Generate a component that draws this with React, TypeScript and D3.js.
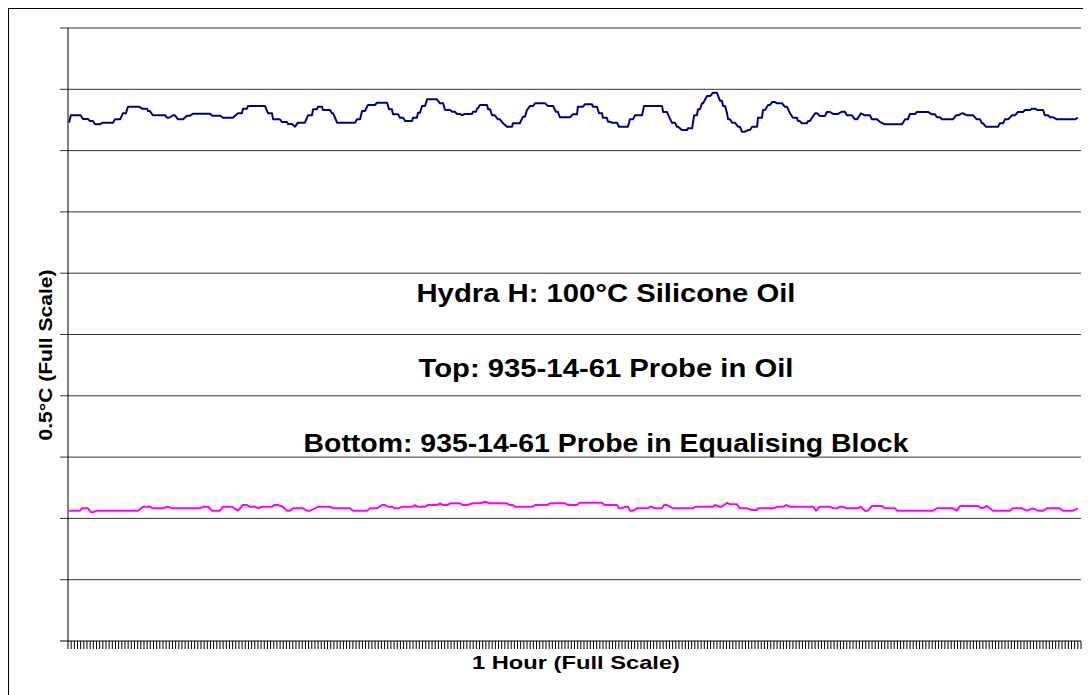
import React from 'react';
import * as d3 from 'd3';

// time in seconds (1 hour full scale), temperature in mK (0.5 °C full scale)
const topProbe: [number, number][] = [
  [4,422.8],[10,428.8],[45,428.8],[53,425.8],[71,425.8],[78,424.1],[89,424.1],[96,421.5],[114,421.5],[124,422.8],[160,422.8],[167,425.5],[185,425.5],[195,430.4],[206,430.4],[213,435.8],[252,435.8],[263,434.2],[281,434.2],[284,432.3],[291,432.3],[302,428.8],[345,428.8],[352,426.8],[359,426.8],[373,428.8],[380,428.8],[391,425.5],[409,425.5],[423,428.5],[434,428.5],[444,430.1],[505,430.1],[512,428.5],[540,428.5],[551,426.8],[586,426.8],[604,430.4],[618,430.4],[622,434.2],[636,434.2],[640,436.4],[700,436.4],[711,430.4],[725,430.4],[729,425.5],[753,425.5],[761,423.3],[778,423.3],[782,421.7],[796,421.7],[807,419.5],[817,422.8],[842,422.8],[853,428.8],[867,428.8],[871,433.7],[885,433.7],[888,435.8],[903,435.8],[906,433.1],[931,433.1],[938,430.4],[942,430.4],[949,426.8],[956,422.8],[1020,422.8],[1027,425.5],[1038,425.5],[1045,432.3],[1055,432.3],[1066,437.2],[1091,437.2],[1098,439.1],[1134,439.1],[1141,433.7],[1151,433.7],[1155,429.6],[1173,429.6],[1180,426.8],[1191,426.8],[1198,424.1],[1223,424.1],[1226,426.8],[1240,426.8],[1244,430.9],[1251,430.9],[1258,436.4],[1269,436.4],[1276,441.8],[1311,441.8],[1322,438.6],[1333,438.6],[1340,433.1],[1358,433.1],[1365,431.7],[1375,431.7],[1382,429.9],[1393,429.9],[1400,428.8],[1411,429.9],[1436,429.9],[1439,431.7],[1450,431.7],[1454,434.5],[1457,434.5],[1464,437.2],[1489,437.2],[1493,433.7],[1500,433.7],[1507,428.8],[1517,428.8],[1528,425.5],[1535,425.5],[1546,422.3],[1560,419.5],[1578,419.5],[1581,422.3],[1606,422.3],[1617,427.7],[1624,427.7],[1631,433.1],[1642,436.4],[1653,436.4],[1660,438.6],[1695,438.6],[1706,436.4],[1724,436.4],[1734,431.7],[1741,431.7],[1748,427.2],[1784,427.2],[1795,429.6],[1809,429.6],[1812,435.8],[1830,435.8],[1837,437.8],[1862,437.8],[1866,435.8],[1880,435.8],[1887,430.4],[1898,430.4],[1901,426.8],[1915,426.8],[1919,423.6],[1926,423.6],[1933,422.8],[1951,422.8],[1958,419.5],[1990,419.5],[1997,425.5],[2008,425.5],[2015,428.8],[2040,428.8],[2047,436.4],[2111,436.4],[2115,431.5],[2129,431.5],[2132,429.6],[2146,422.8],[2157,422.8],[2164,419.5],[2168,419.5],[2182,416.8],[2200,416.8],[2203,418.2],[2218,418.2],[2225,428.8],[2235,428.8],[2239,433.7],[2246,433.7],[2253,438.6],[2257,438.6],[2271,444.5],[2282,444.5],[2292,447.2],[2306,447.2],[2317,440.7],[2324,440.7],[2328,436.4],[2335,436.4],[2342,430.4],[2346,425.5],[2353,425.5],[2360,422.8],[2370,422.8],[2381,419.5],[2388,419.5],[2395,415.4],[2406,415.4],[2417,416.8],[2424,416.8],[2431,419.5],[2449,419.5],[2452,426.8],[2466,426.8],[2470,433.1],[2477,433.1],[2488,437.2],[2495,437.2],[2502,439.6],[2513,439.6],[2520,438.6],[2537,438.6],[2548,435.8],[2555,435.8],[2566,430.4],[2576,426.8],[2591,426.8],[2594,424.1],[2601,424.1],[2608,422.3],[2626,422.3],[2630,424.1],[2637,424.1],[2644,426.8],[2655,430.4],[2662,430.4],[2672,428.2],[2690,428.2],[2697,431.5],[2708,431.5],[2719,429.9],[2736,429.9],[2751,431.7],[2761,431.7],[2768,428.8],[2786,428.8],[2797,425.5],[2804,425.5],[2818,430.4],[2832,428.8],[2850,428.8],[2857,425.5],[2875,425.5],[2886,423.3],[2903,421.5],[2964,421.5],[2975,425.5],[2985,425.5],[2992,429.9],[3010,429.9],[3017,431.5],[3056,431.5],[3070,429.6],[3081,429.6],[3088,427.2],[3099,427.2],[3106,425.5],[3145,425.5],[3156,428.8],[3163,428.8],[3177,430.4],[3181,430.4],[3195,428.8],[3216,428.8],[3230,425.5],[3241,425.5],[3248,422.3],[3252,422.3],[3262,419.5],[3305,419.5],[3312,422.3],[3323,422.3],[3330,425.5],[3341,425.5],[3355,428.8],[3365,428.8],[3376,431.5],[3394,431.5],[3401,433.1],[3419,433.1],[3426,434.2],[3437,434.2],[3444,433.1],[3465,433.1],[3472,428.8],[3483,428.8],[3490,427.2],[3500,427.2],[3515,425.5],[3579,425.5],[3589,426.8]
];

const bottomProbe: [number, number][] = [
  [4,106.3],[43,106.3],[50,108.2],[71,108.2],[82,105.0],[89,105.0],[103,106.3],[249,106.3],[267,109.5],[291,109.5],[302,108.2],[338,108.2],[352,109.5],[373,108.2],[469,108.2],[480,109.5],[498,109.5],[512,106.3],[540,106.3],[551,109.5],[583,109.5],[604,106.3],[622,110.9],[636,110.9],[647,109.5],[665,109.5],[675,108.2],[689,109.5],[725,109.5],[732,110.9],[746,110.9],[764,109.5],[778,106.3],[789,106.3],[800,108.2],[835,108.2],[849,106.3],[860,106.3],[878,108.2],[888,109.5],[931,109.5],[942,108.2],[1002,108.2],[1013,106.3],[1063,106.3],[1073,108.2],[1098,108.2],[1116,110.9],[1127,110.9],[1137,109.5],[1151,109.5],[1162,108.2],[1173,108.2],[1187,109.5],[1223,109.5],[1233,110.9],[1244,109.5],[1269,109.5],[1279,110.9],[1311,110.9],[1322,112.3],[1333,110.9],[1347,110.9],[1358,112.3],[1393,112.3],[1404,110.9],[1418,110.9],[1439,112.3],[1464,112.3],[1482,113.6],[1500,112.3],[1560,112.3],[1571,110.9],[1581,110.9],[1589,109.5],[1649,109.5],[1660,110.9],[1702,110.9],[1713,112.3],[1766,112.3],[1777,110.9],[1809,110.9],[1820,112.8],[1898,112.8],[1908,110.9],[1951,110.9],[1958,108.2],[1969,108.2],[1979,109.5],[1990,109.5],[1997,106.3],[2008,106.3],[2022,108.2],[2061,108.2],[2068,109.5],[2075,109.5],[2086,108.2],[2111,108.2],[2118,110.9],[2129,110.9],[2150,108.2],[2221,108.2],[2228,109.5],[2292,109.5],[2299,110.9],[2317,109.5],[2324,109.5],[2342,112.8],[2353,111.5],[2377,111.5],[2388,108.2],[2413,108.2],[2431,106.9],[2449,106.9],[2452,108.2],[2505,108.2],[2520,109.5],[2541,109.5],[2552,110.9],[2566,109.5],[2648,109.5],[2658,106.3],[2672,109.5],[2708,109.5],[2719,108.2],[2733,108.2],[2744,109.5],[2754,109.5],[2768,108.2],[2804,108.2],[2818,109.5],[2832,106.3],[2843,106.3],[2857,110.1],[2893,110.1],[2903,108.2],[2939,108.2],[2946,106.3],[3074,106.3],[3088,108.2],[3145,108.2],[3159,106.3],[3170,110.1],[3234,110.1],[3248,108.2],[3266,110.1],[3287,106.3],[3348,106.3],[3358,108.2],[3390,108.2],[3408,106.3],[3429,108.2],[3447,106.3],[3465,106.3],[3479,108.2],[3525,108.2],[3536,106.3],[3572,106.3],[3589,108.2]
];

const yGridValues = [0, 50, 100, 150, 200, 250, 300, 350, 400, 450, 500];
const sampleCount = 320;
const titleLines = [
  'Hydra H: 100°C Silicone Oil',
  'Top: 935-14-61 Probe in Oil',
  'Bottom: 935-14-61 Probe in Equalising Block',
];
const xAxisTitle = '1 Hour (Full Scale)';
const yAxisTitle = '0.5°C (Full Scale)';

const W = 1083;
const H = 687;
const plot = { left: 60, right: 1073, top: 20, bottom: 633 };
const FONT = 'Liberation Sans, Arial, sans-serif';

export default function App() {
  const x = d3.scaleLinear().domain([0, 3600]).range([plot.left, plot.right]);
  const y = d3.scaleLinear().domain([0, 500]).range([plot.bottom, plot.top]);
  const line = d3
    .line<[number, number]>()
    .x((d) => x(d[0]))
    .y((d) => y(d[1]));

  const tickTimes = d3.range(sampleCount + 1).map((i) => (i * 3600) / sampleCount);

  const titleY = [294, 369, 444];
  const titleLen = [379, 375, 605];

  return (
    <svg width={W} height={H} style={{ display: 'block' }}>
      <rect x={0} y={0} width={W} height={H} fill="#fff" />
      <rect x={0.5} y={0.5} width={1100} height={720} fill="none" stroke="#000" strokeWidth={1} />
      {yGridValues.map((v) => (
        <line
          key={'g' + v}
          x1={plot.left - 8}
          x2={v === 0 ? plot.right : plot.right}
          y1={y(v)}
          y2={y(v)}
          stroke={v === 0 ? '#000' : '#333'}
          strokeWidth={1}
        />
      ))}
      <line x1={plot.left} x2={plot.left} y1={plot.top} y2={plot.bottom} stroke="#000" strokeWidth={1} />
      {tickTimes.map((t, i) => (
        <line key={'t' + i} x1={x(t)} x2={x(t)} y1={plot.bottom} y2={plot.bottom + 8} stroke="#000" strokeWidth={1} />
      ))}
      <path d={line(topProbe) || ''} fill="none" stroke="#000080" strokeWidth={2} strokeLinejoin="round" />
      <path d={line(bottomProbe) || ''} fill="none" stroke="#FF00FF" strokeWidth={2} strokeLinejoin="round" />
      {titleLines.map((s, i) => (
        <text
          key={'ti' + i}
          x={598}
          y={titleY[i]}
          textAnchor="middle"
          fontFamily={FONT}
          fontWeight="bold"
          fontSize={25}
          textLength={titleLen[i]}
          lengthAdjust="spacingAndGlyphs"
          fill="#000"
        >
          {s}
        </text>
      ))}
      <text
        x={568}
        y={661}
        textAnchor="middle"
        fontFamily={FONT}
        fontWeight="bold"
        fontSize={19}
        textLength={208}
        lengthAdjust="spacingAndGlyphs"
      >
        {xAxisTitle}
      </text>
      <text
        transform={`translate(44, ${347}) rotate(-90)`}
        textAnchor="middle"
        fontFamily={FONT}
        fontWeight="bold"
        fontSize={19}
        textLength={171}
        lengthAdjust="spacingAndGlyphs"
      >
        {yAxisTitle}
      </text>
    </svg>
  );
}
